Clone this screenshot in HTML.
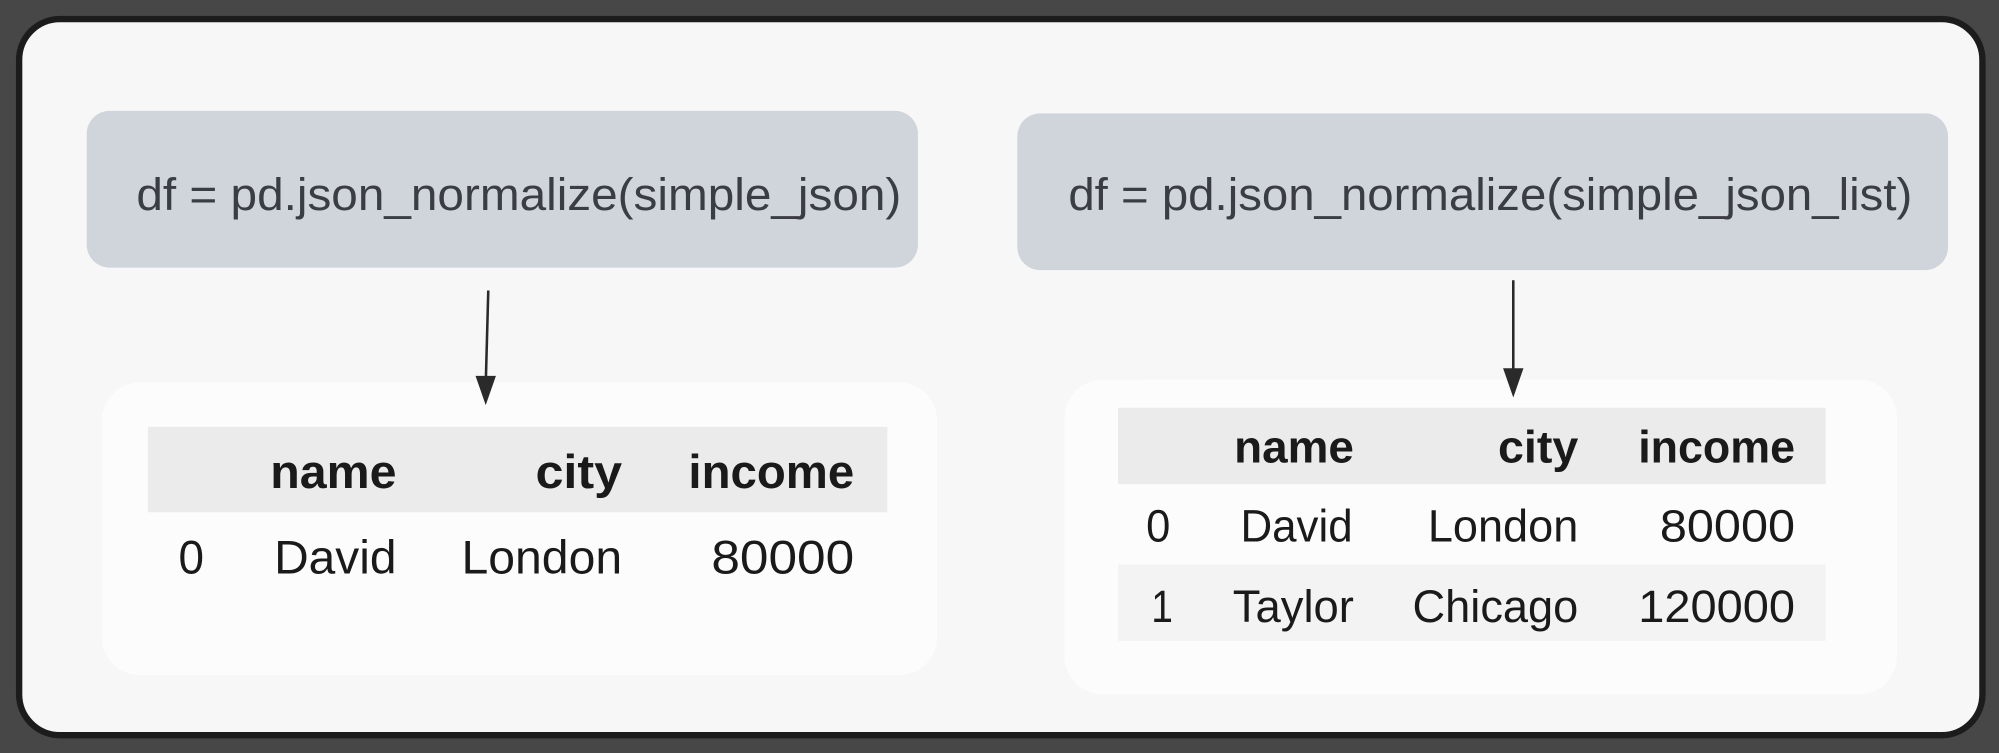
<!DOCTYPE html>
<html><head><meta charset="utf-8"><style>
html,body{margin:0;padding:0;background:#474747;}
svg{display:block;}
text{font-family:"Liberation Sans",Arial,sans-serif;}
</style></head><body>
<svg width="1999" height="753" viewBox="0 0 1568 591" preserveAspectRatio="none" xmlns="http://www.w3.org/2000/svg">
<rect x="0" y="0" width="1568" height="591" fill="#474747"/>
<rect x="15" y="15" width="1540" height="562" rx="32" fill="#f7f7f7" stroke="#1c1c1c" stroke-width="5"/>
<!-- left code box -->
<rect x="68" y="87" width="652" height="123" rx="18" fill="#cfd5db"/>
<text x="107" y="165" font-size="36" fill="#3a3d42" textLength="600" lengthAdjust="spacingAndGlyphs">df = pd.json_normalize(simple_json)</text>
<!-- right code box -->
<rect x="798" y="89" width="730" height="123" rx="18" fill="#cfd5db"/>
<text x="838" y="165" font-size="36" fill="#3a3d42" textLength="662" lengthAdjust="spacingAndGlyphs">df = pd.json_normalize(simple_json_list)</text>
<!-- left table -->
<rect x="80" y="300" width="655" height="230" rx="30" fill="#fcfcfc"/>
<rect x="116" y="335" width="580" height="67" fill="#ebebeb"/>
<g font-weight="bold" font-size="37" fill="#1a1a1a">
<text x="212" y="383" textLength="99" lengthAdjust="spacingAndGlyphs">name</text>
<text x="420" y="383" textLength="68" lengthAdjust="spacingAndGlyphs">city</text>
<text x="540" y="383" textLength="130" lengthAdjust="spacingAndGlyphs">income</text>
</g>
<g font-size="37" fill="#1a1a1a">
<text x="140" y="450" textLength="20" lengthAdjust="spacingAndGlyphs">0</text>
<text x="215" y="450" textLength="96" lengthAdjust="spacingAndGlyphs">David</text>
<text x="362" y="450" textLength="126" lengthAdjust="spacingAndGlyphs">London</text>
<text x="558" y="450" textLength="112" lengthAdjust="spacingAndGlyphs">80000</text>
</g>
<!-- right table -->
<rect x="835" y="298" width="653" height="247" rx="30" fill="#fcfcfc"/>
<rect x="877" y="320" width="555" height="60" fill="#ebebeb"/>
<rect x="877" y="443" width="555" height="60" fill="#f3f3f3"/>
<g font-weight="bold" font-size="36" fill="#1a1a1a">
<text x="968" y="363" textLength="94" lengthAdjust="spacingAndGlyphs">name</text>
<text x="1175" y="363" textLength="63" lengthAdjust="spacingAndGlyphs">city</text>
<text x="1285" y="363" textLength="123" lengthAdjust="spacingAndGlyphs">income</text>
</g>
<g font-size="36" fill="#1a1a1a">
<text x="899" y="425" textLength="19" lengthAdjust="spacingAndGlyphs">0</text>
<text x="973" y="425" textLength="88" lengthAdjust="spacingAndGlyphs">David</text>
<text x="1120" y="425" textLength="118" lengthAdjust="spacingAndGlyphs">London</text>
<text x="1302" y="425" textLength="106" lengthAdjust="spacingAndGlyphs">80000</text>
<text x="903" y="488" textLength="17" lengthAdjust="spacingAndGlyphs">1</text>
<text x="967" y="488" textLength="95" lengthAdjust="spacingAndGlyphs">Taylor</text>
<text x="1108" y="488" textLength="130" lengthAdjust="spacingAndGlyphs">Chicago</text>
<text x="1285" y="488" textLength="123" lengthAdjust="spacingAndGlyphs">120000</text>
</g>
<!-- arrows (on top) -->
<line x1="383" y1="228" x2="381" y2="302" stroke="#2a2a2a" stroke-width="2"/>
<polygon points="373,295 389,295 381,318" fill="#2a2a2a"/>
<line x1="1187" y1="220" x2="1187" y2="296" stroke="#2a2a2a" stroke-width="2"/>
<polygon points="1179,289 1195,289 1187,312" fill="#2a2a2a"/>
</svg>
</body></html>
